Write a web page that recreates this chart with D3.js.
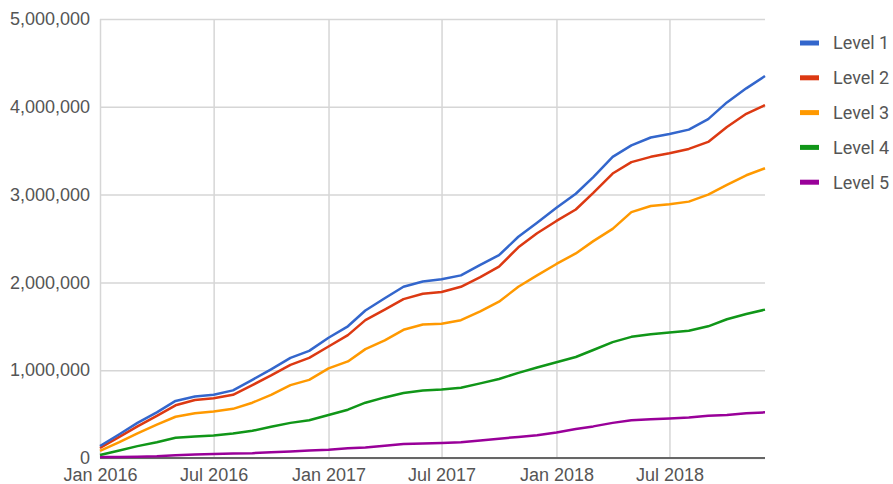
<!DOCTYPE html>
<html>
<head>
<meta charset="utf-8">
<script src="https://cdn.jsdelivr.net/npm/d3@7"></script>
<style>
  html, body { margin: 0; padding: 0; background: #fff; }
  svg { display: block; font-family: Roboto, "Noto Sans", sans-serif; }
</style>
</head>
<body>
<svg id="chart" width="893" height="484"></svg>
<script>
// Monthly data, Jan 2016 – Dec 2018
const months = [
  "2016-01","2016-02","2016-03","2016-04","2016-05","2016-06","2016-07","2016-08","2016-09","2016-10","2016-11","2016-12",
  "2017-01","2017-02","2017-03","2017-04","2017-05","2017-06","2017-07","2017-08","2017-09","2017-10","2017-11","2017-12",
  "2018-01","2018-02","2018-03","2018-04","2018-05","2018-06","2018-07","2018-08","2018-09","2018-10","2018-11","2018-12"
];
const seriesNames = ["Level 1", "Level 2", "Level 3", "Level 4", "Level 5"];
const level1 = [137000,270000,400000,520000,650000,700000,720000,770000,890000,1010000,1140000,1220000,
                1370000,1500000,1680000,1820000,1950000,2010000,2035000,2080000,2200000,2310000,2520000,2680000,
                2850000,3010000,3200000,3430000,3560000,3650000,3690000,3740000,3860000,4050000,4210000,4350000];
const level2 = [114000,240000,360000,480000,600000,660000,680000,720000,830000,940000,1060000,1140000,
                1270000,1400000,1570000,1690000,1810000,1870000,1890000,1950000,2060000,2180000,2400000,2560000,
                2700000,2830000,3020000,3240000,3370000,3430000,3470000,3520000,3600000,3770000,3920000,4020000];
const level3 = [80000,180000,280000,380000,470000,510000,530000,560000,630000,720000,830000,890000,
                1020000,1100000,1240000,1340000,1460000,1520000,1530000,1570000,1670000,1780000,1950000,2080000,
                2210000,2330000,2470000,2610000,2800000,2870000,2890000,2920000,3000000,3110000,3220000,3300000];
const level4 = [35000,85000,135000,180000,230000,245000,255000,280000,310000,355000,400000,430000,
                490000,550000,630000,690000,740000,770000,780000,800000,850000,900000,970000,1030000,
                1090000,1150000,1230000,1320000,1380000,1410000,1430000,1450000,1500000,1580000,1640000,1690000];
const level5 = [10000,10000,15000,20000,30000,40000,45000,50000,55000,65000,75000,85000,
                95000,110000,120000,140000,160000,165000,170000,180000,200000,220000,240000,260000,
                290000,330000,360000,400000,430000,440000,450000,460000,480000,490000,510000,520000];
const colors = ["#3366cc", "#dc3912", "#ff9900", "#109618", "#990099"];
const yTicks = [0, 1000000, 2000000, 3000000, 4000000, 5000000];
const xTickLabels = ["2016-01","2016-07","2017-01","2017-07","2018-01","2018-07"];

const parse = d3.timeParse("%Y-%m");
const dates = months.map(parse);
const allSeries = [level1, level2, level3, level4, level5].map((vals, i) => ({
  name: seriesNames[i], color: colors[i],
  points: vals.map((v, j) => ({ date: dates[j], value: v }))
}));

const svg = d3.select("#chart");
const plotL = 100, plotR = 765, plotT = 19, plotB = 458;

const x = d3.scaleTime().domain([dates[0], dates[dates.length - 1]]).range([plotL, plotR]);
const y = d3.scaleLinear().domain([0, 5000000]).range([plotB, plotT]);

// Horizontal gridlines + y labels
const yAxis = d3.axisLeft(y).tickValues(yTicks).tickFormat(d3.format(",")).tickSize(-(plotR - plotL)).tickPadding(10);
const gy = svg.append("g").attr("transform", `translate(${plotL},0)`).call(yAxis);
gy.select(".domain").remove();
gy.selectAll(".tick line").attr("stroke", "#d6d6d6").attr("stroke-width", 1.5);
gy.selectAll(".tick text").attr("fill", "#555").style("font-size", "18px");

// Vertical gridlines + x labels
const xTickDates = xTickLabels.map(parse);
const xAxis = d3.axisBottom(x).tickValues(xTickDates).tickFormat(d3.timeFormat("%b %Y")).tickSize(-(plotB - plotT)).tickPadding(10);
const gx = svg.append("g").attr("transform", `translate(0,${plotB})`).call(xAxis);
gx.select(".domain").remove();
gx.selectAll(".tick line").attr("stroke", "#d6d6d6").attr("stroke-width", 1.5);
gx.selectAll(".tick text").attr("fill", "#555").style("font-size", "18px").attr("dy", "0.71em").attr("y", 10);

// Baseline
svg.append("line").attr("x1", plotL).attr("x2", plotR).attr("y1", y(0)).attr("y2", y(0))
  .attr("stroke", "#666").attr("stroke-width", 2);

// Lines
const line = d3.line().x(d => x(d.date)).y(d => y(d.value));
svg.append("g").selectAll("path").data(allSeries.slice().reverse()).join("path")
  .attr("d", d => line(d.points))
  .attr("fill", "none")
  .attr("stroke", d => d.color)
  .attr("stroke-width", 2.5)
  .attr("stroke-linejoin", "round");

// Legend
const legend = svg.append("g").attr("transform", "translate(800,43)");
const items = legend.selectAll("g").data(allSeries).join("g")
  .attr("transform", (d, i) => `translate(0,${i * 34.8})`);
items.append("rect").attr("x", 0).attr("y", -2.5).attr("width", 19).attr("height", 5).attr("fill", d => d.color);
items.append("text").attr("x", 33).attr("y", 0).attr("dy", "0.35em")
  .attr("fill", "#555").style("font-size", "18px").text(d => d.name);
</script>
</body>
</html>
